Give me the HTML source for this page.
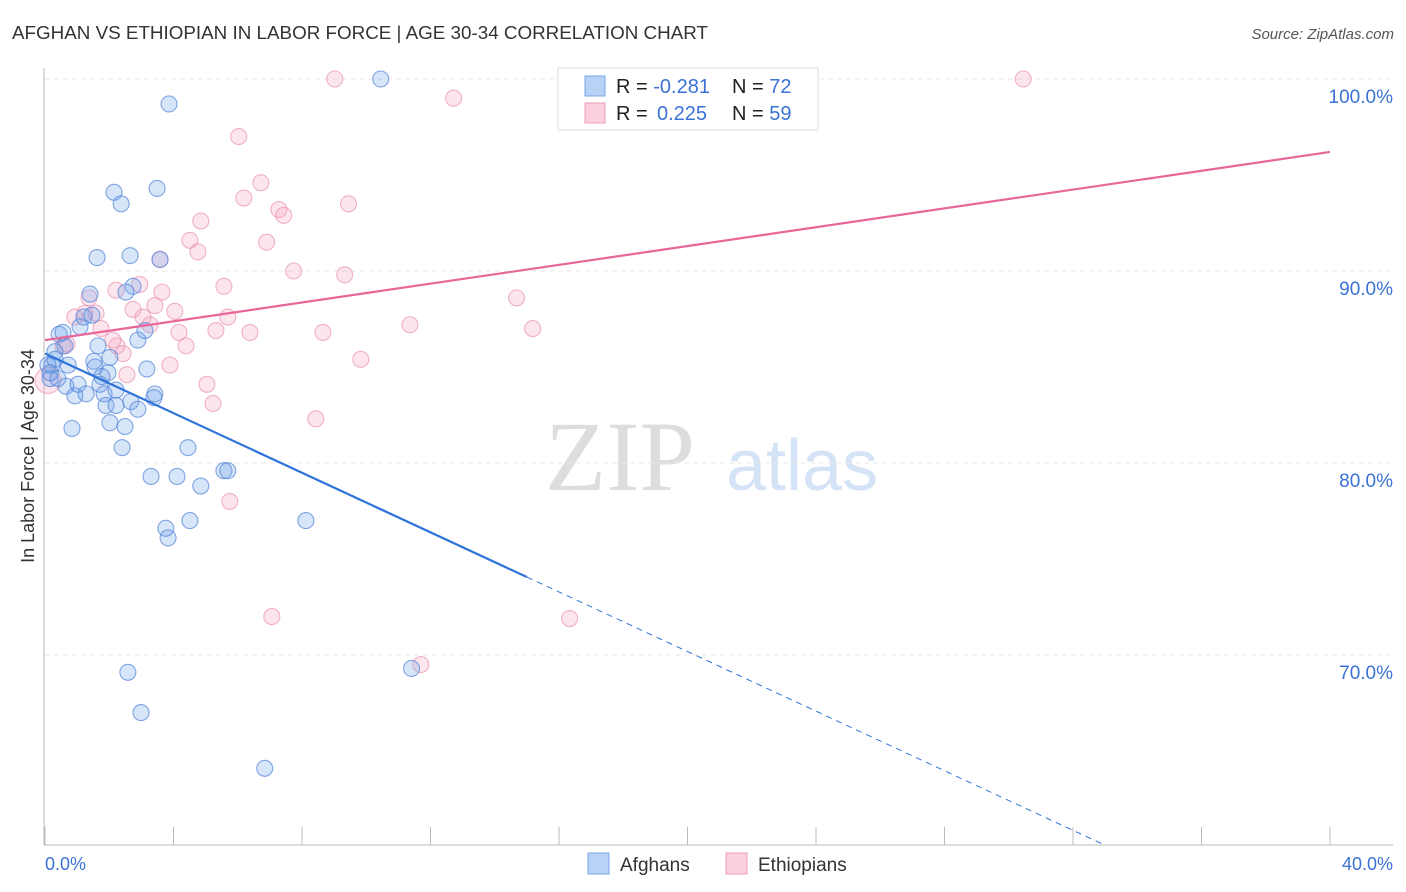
<!DOCTYPE html>
<html><head><meta charset="utf-8"><style>
body{margin:0;background:#fff;font-family:"Liberation Sans",sans-serif;}
svg{display:block}
</style></head><body>
<svg id="chart" width="1406" height="892">
<text x="12" y="39" font-size="18" fill="#333" textLength="696" lengthAdjust="spacingAndGlyphs">AFGHAN VS ETHIOPIAN IN LABOR FORCE | AGE 30-34 CORRELATION CHART</text>
<text x="1394" y="39" font-size="15" fill="#555" font-style="italic" text-anchor="end">Source: ZipAtlas.com</text>
<text x="620" y="490" font-size="100" fill="#ddd" font-family="Liberation Serif,serif" text-anchor="middle">ZIP</text>
<text x="802" y="490" font-size="72" fill="#d4e3f5" text-anchor="middle">atlas</text>
<g id="grid"></g><g id="marks"></g><g id="lines"></g>
<text transform="translate(34,456) rotate(-90)" font-size="18" fill="#333" text-anchor="middle">In Labor Force | Age 30-34</text>
<text x="45" y="870" font-size="18" fill="#3b72d6">0.0%</text>
<text x="1393" y="870" font-size="18" fill="#3b72d6" text-anchor="end">40.0%</text>
<g>
<rect x="558" y="68" width="260" height="62" fill="#fff" stroke="#ddd"/>
<rect x="585" y="76" width="20" height="20" fill="#b8d2f5" stroke="#7aa6e6"/>
<rect x="585" y="103" width="20" height="20" fill="#fbcfdc" stroke="#ee9cb6"/>
<text x="616" y="93" font-size="20" fill="#222">R = <tspan fill="#3b72d6">-0.281</tspan><tspan x="732">N = </tspan><tspan fill="#3b72d6">72</tspan></text>
<text x="616" y="120" font-size="20" fill="#222">R = <tspan fill="#3b72d6" x="657">0.225</tspan><tspan x="732">N = </tspan><tspan fill="#3b72d6">59</tspan></text>
</g>
<g>
<rect x="588" y="853" width="21" height="21" fill="#b8d2f5" stroke="#7aa6e6"/>
<text x="620" y="871" font-size="19" fill="#333">Afghans</text>
<rect x="726" y="853" width="21" height="21" fill="#fbcfdc" stroke="#ee9cb6"/>
<text x="758" y="871" font-size="19" fill="#333">Ethiopians</text>
</g>
</svg>
<script>
const yTicks=[100,90,80,70];
const yTickLabels=["100.0%","90.0%","80.0%","70.0%"];
const xTicks=[0,4,8,12,16,20,24,28,32,36,40];
const afgX=[10.45,3.86,2.15,3.49,2.37,1.62,2.65,3.58,2.74,2.52,1.40,0.44,0.56,1.09,1.21,1.46,2.02,2.89,3.11,1.65,0.62,0.31,0.22,0.72,1.52,1.56,1.96,3.17,0.16,0.40,0.65,0.93,1.03,1.28,1.71,1.84,1.77,2.21,1.90,2.21,2.67,2.89,3.42,3.39,2.02,2.49,0.84,2.40,4.45,3.30,4.11,4.85,5.57,5.69,3.76,4.51,3.83,8.12,2.58,11.41,2.99,6.84,0.09,0.31,0.16];
const afgY=[100,98.7,94.1,94.3,93.5,90.7,90.8,90.6,89.2,88.9,88.8,86.7,86.8,87.1,87.6,87.7,85.5,86.4,86.9,86.1,86.1,85.8,85.1,85.1,85.3,85.0,84.7,84.9,84.4,84.4,84.0,83.5,84.1,83.6,84.1,83.6,84.5,83.8,83.0,83.0,83.2,82.8,83.6,83.4,82.1,81.9,81.8,80.8,80.8,79.3,79.3,78.8,79.6,79.6,76.6,77.0,76.1,77.0,69.1,69.3,67.0,64.1,85.1,85.4,84.7];
const ethX=[9.02,20.65,30.45,12.72,6.03,6.72,6.19,9.45,7.28,7.43,4.85,4.51,4.76,6.90,7.74,9.33,3.58,2.95,2.21,5.57,3.64,1.37,1.59,3.42,4.04,2.74,0.93,1.24,1.74,3.27,3.05,5.69,11.36,14.68,15.18,8.65,5.32,6.38,4.17,4.39,0.56,0.68,2.24,2.11,2.43,9.83,3.89,2.55,5.04,5.23,8.43,5.75,7.06,16.33,11.70,0.09];
const ethY=[100,100,100,99.0,97.0,94.6,93.8,93.5,93.2,92.9,92.6,91.6,91.0,91.5,90.0,89.8,90.6,89.3,89.0,89.2,88.9,88.6,87.8,88.2,87.9,88.0,87.6,87.8,87.0,87.2,87.6,87.6,87.2,88.6,87.0,86.8,86.9,86.8,86.8,86.1,86.1,86.2,86.1,86.4,85.7,85.4,85.1,84.6,84.1,83.1,82.3,78.0,72.0,71.9,69.5,84.3];
const afgTrend=[85.7,-0.776];
const ethTrend=[86.4,0.245];
const NS="http://www.w3.org/2000/svg";
const X=v=>45+v*32.125, Y=v=>79+(100-v)*19.2;
function mk(t,a,p){const e=document.createElementNS(NS,t);for(const k in a)e.setAttribute(k,a[k]);p.appendChild(e);return e;}
const grid=document.getElementById('grid'),marks=document.getElementById('marks'),lines=document.getElementById('lines');
yTicks.forEach((v,i)=>{
 const l=mk('line',{x1:45,x2:1393,y1:Y(v),y2:Y(v),stroke:'#e8e8e8','stroke-dasharray':'5,4'},grid);
 
 
 const t=mk('text',{x:1393,y:Y(v)+24,'font-size':19,fill:'#3b72d6','text-anchor':'end'},grid);
 t.textContent=yTickLabels[i];
 
 
});
const ax=mk('line',{x1:44,x2:44,y1:68,y2:845,stroke:'#bbb'},grid);


const bx=mk('line',{x1:44,x2:1393,y1:845,y2:845,stroke:'#bbb'},grid);


xTicks.forEach(v=>{
 const t=mk('line',{x1:X(v),x2:X(v),y1:827,y2:845,stroke:'#bbb'},grid);
 
 
});
ethX.forEach((v,i)=>{
 const c=mk('circle',{cx:X(v),cy:Y(ethY[i]),r:i==ethX.length-1?13:8,fill:'rgba(244,160,190,0.28)',stroke:'rgba(232,140,172,0.65)','stroke-width':1.1},marks);
 
 
});
afgX.forEach((v,i)=>{
 const c=mk('circle',{cx:X(v),cy:Y(afgY[i]),r:8,fill:'rgba(110,160,235,0.28)',stroke:'rgba(80,130,215,0.7)','stroke-width':1.1},marks);
 
 
});
let l1=mk('line',{x1:X(0),y1:Y(afgTrend[0]),x2:X(15),y2:Y(afgTrend[0]+afgTrend[1]*15),stroke:'#2f74d8','stroke-width':2.2},lines);


const xEnd=(60.1-afgTrend[0])/afgTrend[1];
let l2=mk('line',{x1:X(15),y1:Y(afgTrend[0]+afgTrend[1]*15),x2:X(xEnd),y2:Y(60.1),stroke:'#2f74d8','stroke-width':1,'stroke-dasharray':'6,5'},lines);


let l3=mk('line',{x1:X(0),y1:Y(ethTrend[0]),x2:X(40),y2:Y(ethTrend[0]+ethTrend[1]*40),stroke:'#e8679a','stroke-width':2.2},lines);


</script>
</body></html>
